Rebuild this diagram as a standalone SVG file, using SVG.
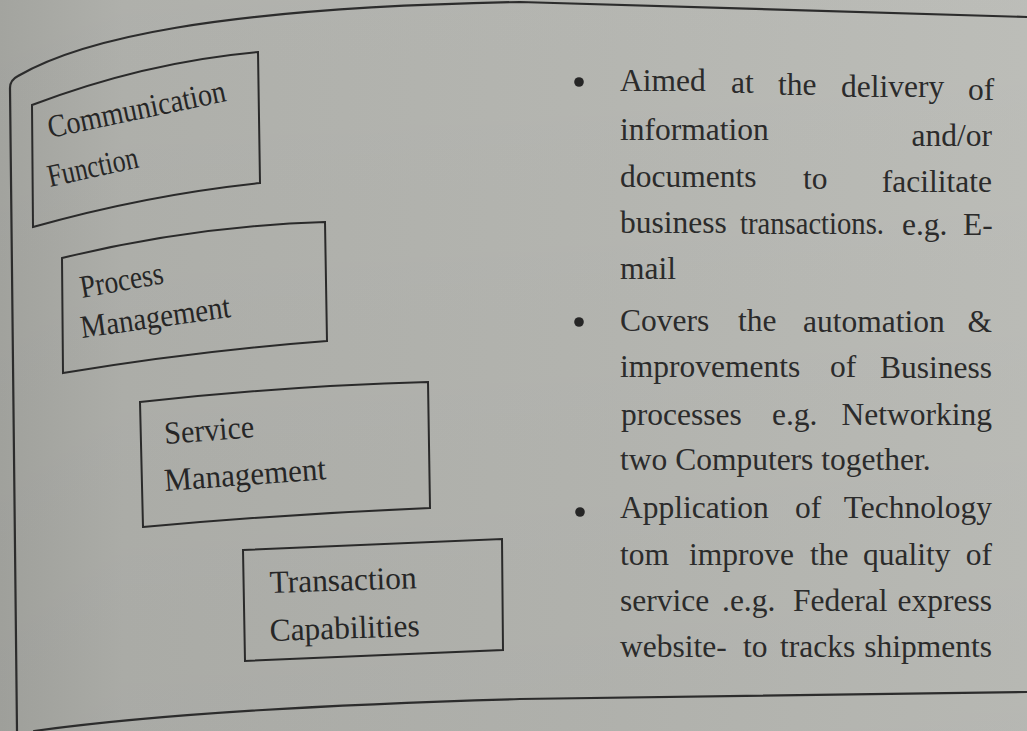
<svg xmlns="http://www.w3.org/2000/svg" width="1027" height="731" viewBox="0 0 1027 731">
  <defs>
    <linearGradient id="paper" x1="0" y1="0" x2="1" y2="0">
      <stop offset="0" stop-color="#a8a9a4"/>
      <stop offset="0.12" stop-color="#b4b5b0"/>
      <stop offset="0.55" stop-color="#babbb6"/>
      <stop offset="1" stop-color="#c2c3be"/>
    </linearGradient>
    <linearGradient id="shade" x1="0" y1="0" x2="0" y2="1">
      <stop offset="0" stop-color="#000" stop-opacity="0.03"/>
      <stop offset="1" stop-color="#000" stop-opacity="0.06"/>
    </linearGradient>
  </defs>
  <style>
    .frame { fill: none; stroke: #2c2c2c; stroke-width: 2.2; stroke-linejoin: round; stroke-linecap: round; }
    .box { fill: none; stroke: #2a2a2a; stroke-width: 2; stroke-linejoin: miter; }
    .lbl { font-family: "Liberation Serif", "Times New Roman", serif; font-size: 32px; fill: #262626; }
    .body { font-family: "Liberation Serif", "Times New Roman", serif; font-size: 31.5px; fill: #2b2b2b; }
    .dot { fill: #262626; }
  </style>

  <!-- page -->
  <rect x="0" y="0" width="1027" height="731" fill="url(#paper)"/>
  <rect x="0" y="0" width="1027" height="731" fill="url(#shade)"/>

  <!-- surrounding frame -->
  <g id="frame">
    <path class="frame" d="M17,731 L10,88 Q10,80 18,76 C80,40 210,8 520,2 L1027,17"/>
    <path class="frame" d="M34,731 Q200,708 520,699 L1027,692"/>
  </g>

  <!-- stacked function boxes -->
  <g id="communication-function">
    <path class="box" d="M32,105 Q145,62 258,52 L260,183 Q146,195 33,227 Z"/>
    <text class="lbl" textLength="181" lengthAdjust="spacingAndGlyphs" transform="translate(50,138) rotate(-11.8)">Communication</text>
    <text class="lbl" textLength="92" lengthAdjust="spacingAndGlyphs" transform="translate(50,187) rotate(-12.5)">Function</text>
  </g>

  <g id="process-management">
    <path class="box" d="M62,258 Q193,226 325,222 L327,341 Q195,351 63,373 Z"/>
    <text class="lbl" textLength="84" lengthAdjust="spacingAndGlyphs" transform="translate(82,298) rotate(-10.2)">Process</text>
    <text class="lbl" textLength="151" lengthAdjust="spacingAndGlyphs" transform="translate(82,338) rotate(-8)">Management</text>
  </g>

  <g id="service-management">
    <path class="box" d="M140,402 Q284,386 428,382 L430,508 Q286,514 143,527 Z"/>
    <text class="lbl" textLength="90" lengthAdjust="spacingAndGlyphs" transform="translate(165,444) rotate(-4.4)">Service</text>
    <text class="lbl" textLength="162" lengthAdjust="spacingAndGlyphs" transform="translate(165,491) rotate(-4.2)">Management</text>
  </g>

  <g id="transaction-capabilities">
    <path class="box" d="M243,550 L502,539 L503,650 L245,661 Z"/>
    <text class="lbl" textLength="147" lengthAdjust="spacingAndGlyphs" transform="translate(270,593) rotate(-1.9)">Transaction</text>
    <text class="lbl" textLength="150" lengthAdjust="spacingAndGlyphs" transform="translate(270,641) rotate(-1.9)">Capabilities</text>
  </g>

  <!-- no connectors between the boxes -->
  <g id="connectors"/>

  <!-- description column -->
  <g id="descriptions">
    <circle class="dot" cx="579" cy="82" r="4.8"/>
    <circle class="dot" cx="579" cy="322" r="4.8"/>
    <circle class="dot" cx="580" cy="512" r="4.8"/>

    <text class="body">
      <tspan x="620" y="91">Aimed</tspan><tspan x="731" y="93">at</tspan><tspan x="778" y="95">the</tspan><tspan x="841" y="97">delivery</tspan><tspan x="968" y="100">of</tspan>
    </text>
    <text class="body">
      <tspan x="620" y="140">information</tspan><tspan x="992" y="146" text-anchor="end">and/or</tspan>
    </text>
    <text class="body">
      <tspan x="620" y="187">documents</tspan><tspan x="803" y="189">to</tspan><tspan x="992" y="192" text-anchor="end">facilitate</tspan>
    </text>
    <text class="body">
      <tspan x="620" y="233">business</tspan><tspan x="740" y="234" textLength="144" lengthAdjust="spacingAndGlyphs">transactions.</tspan><tspan x="902" y="235">e.g.</tspan><tspan x="963" y="235">E-</tspan>
    </text>
    <text class="body"><tspan x="620" y="279">mail</tspan></text>
    <text class="body">
      <tspan x="620" y="331">Covers</tspan><tspan x="738" y="331">the</tspan><tspan x="803" y="332">automation</tspan><tspan x="992" y="332" text-anchor="end">&amp;</tspan>
    </text>
    <text class="body">
      <tspan x="620" y="377">improvements</tspan><tspan x="830" y="377">of</tspan><tspan x="992" y="378" text-anchor="end">Business</tspan>
    </text>
    <text class="body">
      <tspan x="621" y="425">processes</tspan><tspan x="772" y="425">e.g.</tspan><tspan x="992" y="425" text-anchor="end">Networking</tspan>
    </text>
    <text class="body"><tspan x="620" y="470">two Computers together.</tspan></text>
    <text class="body">
      <tspan x="620" y="518">Application</tspan><tspan x="795" y="518">of</tspan><tspan x="992" y="518" text-anchor="end">Technology</tspan>
    </text>
    <text class="body">
      <tspan x="620" y="565">tom</tspan><tspan x="689" y="565">improve</tspan><tspan x="810" y="565">the</tspan><tspan x="863" y="565">quality</tspan><tspan x="992" y="565" text-anchor="end">of</tspan>
    </text>
    <text class="body">
      <tspan x="620" y="611">service</tspan><tspan x="722" y="611">.e.g.</tspan><tspan x="793" y="611">Federal</tspan><tspan x="992" y="611" text-anchor="end">express</tspan>
    </text>
    <text class="body">
      <tspan x="620" y="657">website-</tspan><tspan x="743" y="657">to</tspan><tspan x="780" y="657">tracks</tspan><tspan x="992" y="657" text-anchor="end">shipments</tspan>
    </text>
  </g>
</svg>
